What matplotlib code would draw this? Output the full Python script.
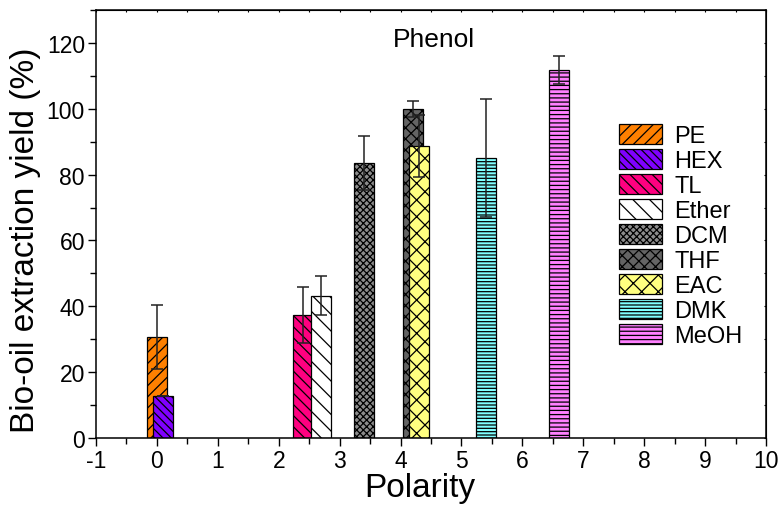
import numpy as np
import matplotlib
matplotlib.use("Agg")
import matplotlib.pyplot as plt
from matplotlib.ticker import MultipleLocator

plt.rcParams['font.family'] = ['Liberation Sans', 'DejaVu Sans']
plt.rcParams['axes.unicode_minus'] = False
plt.rcParams['hatch.linewidth'] = 0.9

solvents = ['PE', 'HEX', 'TL', 'Ether', 'DCM', 'THF', 'EAC', 'DMK', 'MeOH']
polarity = [0.0, 0.1, 2.4, 2.7, 3.4, 4.2, 4.3, 5.4, 6.6]
yield_pct = [30.7, 12.7, 37.4, 43.3, 83.5, 99.9, 88.7, 85.0, 111.7]
yield_err = [9.7, 0.0, 8.6, 5.8, 8.1, 2.4, 9.3, 17.8, 4.2]

colors = ['#FF8000', '#8000FF', '#FF0080', '#FFFFFF', '#8C8C8C',
          '#646464', '#FFFF80', '#80FFFF', '#FF80FF']
hatches = ['///', '\\\\\\\\', '\\\\\\', '\\\\', 'xxxxx', 'xxx', 'xx', '-----', '----']

fig = plt.figure(figsize=(7.78, 5.10), dpi=100)
ax = fig.add_axes([96 / 778, 1 - 439.3 / 510, (766 - 96) / 778, (439.3 - 10.7) / 510])

for x, h, c, hat, lab in zip(polarity, yield_pct, colors, hatches, solvents):
    ax.bar(x, h, width=0.33, color=c, edgecolor='black', linewidth=0.9,
           hatch=hat, label=lab, zorder=2)

ax.errorbar(polarity, yield_pct, yerr=yield_err, fmt='none', ecolor='#222222',
            elinewidth=1.1, capsize=4, capthick=1.1, zorder=3)

ax.set_xlim(-1, 10)
ax.set_ylim(0, 130)
ax.xaxis.set_major_locator(MultipleLocator(1))
ax.xaxis.set_minor_locator(MultipleLocator(0.5))
ax.yaxis.set_minor_locator(MultipleLocator(10))
ax.set_yticks(np.arange(0, 121, 20))

ax.tick_params(which='major', direction='out', length=6, width=1.0,
               labelsize=16.5, pad=2)
ax.tick_params(which='minor', direction='out', length=4, width=1.0)
for s in ax.spines.values():
    s.set_linewidth(1.1)

# small inward ticks on the top and right frame
ax2 = ax.secondary_xaxis('top')
ax2.xaxis.set_major_locator(MultipleLocator(0.5))
ax2.tick_params(direction='in', length=1.5, labeltop=False)
ax3 = ax.secondary_yaxis('right')
ax3.yaxis.set_major_locator(MultipleLocator(10))
ax3.tick_params(direction='in', length=1.5, labelright=False)

ax.set_xlabel('Polarity', fontsize=24, labelpad=0, x=(420 - 96) / 670)
ax.set_ylabel('Bio-oil extraction yield (%)', fontsize=24, labelpad=4, y=0.465)

ax.text(4.55, 121, 'Phenol', fontsize=19, ha='center', va='center')

ax.legend(loc='upper left', bbox_to_anchor=(619 / 778, 1 - 125 / 510),
          bbox_transform=fig.transFigure, frameon=False, fontsize=17,
          handlelength=1.8, handleheight=0.95, handletextpad=0.55,
          labelspacing=0.07, borderpad=0, borderaxespad=0)

fig.savefig('out.png', dpi=100)
